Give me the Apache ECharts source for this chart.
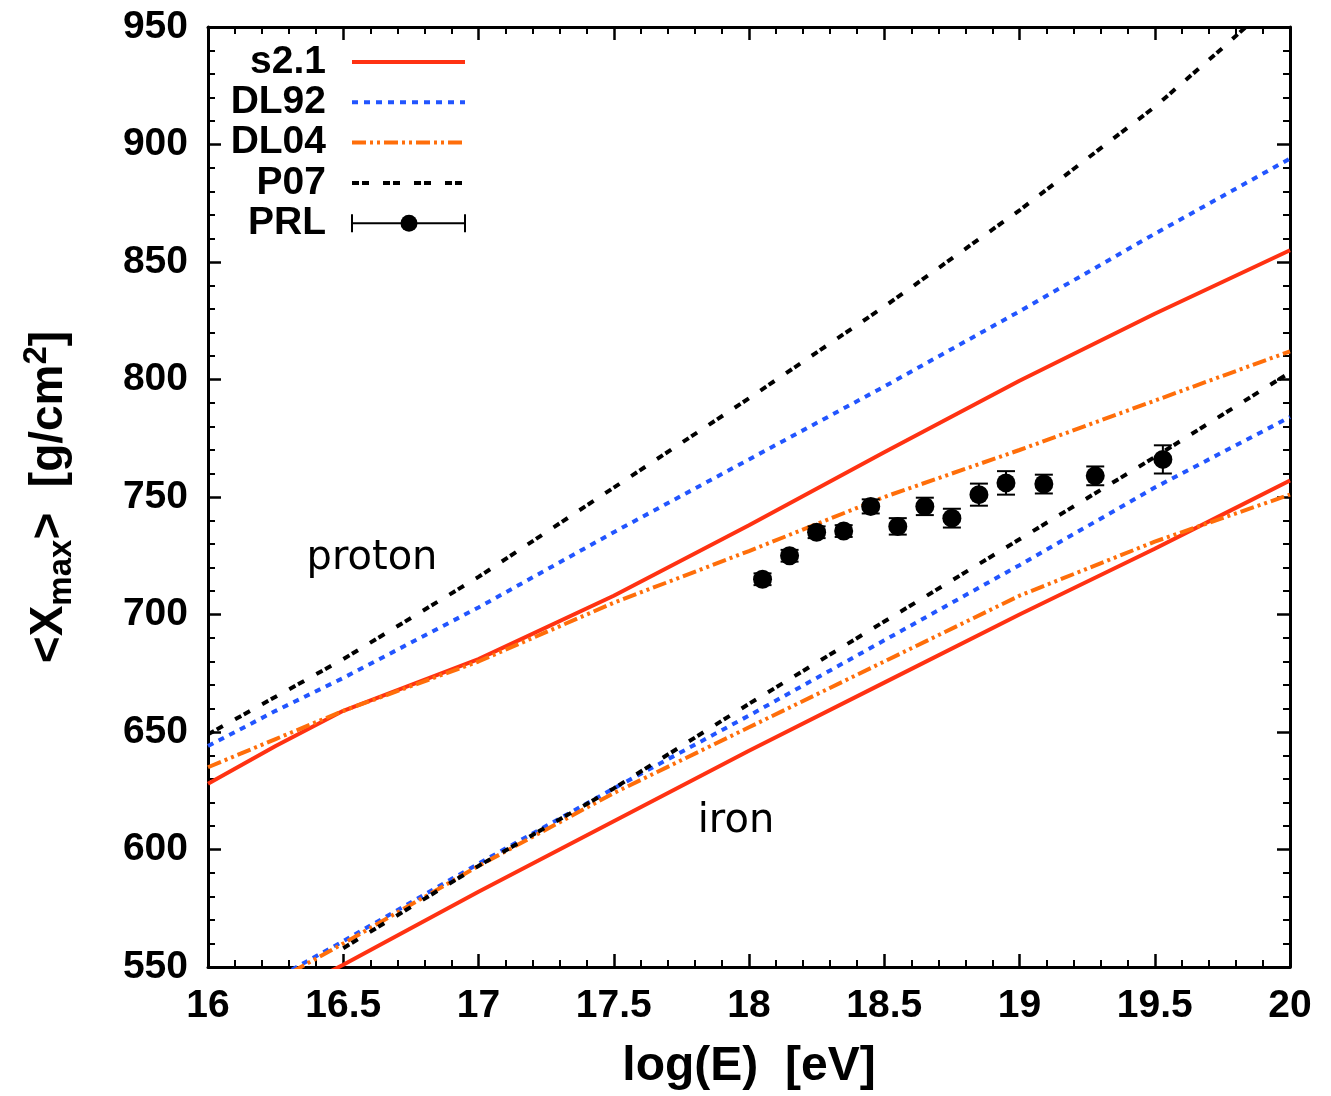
<!DOCTYPE html>
<html>
<head>
<meta charset="utf-8">
<script src="https://cdn.jsdelivr.net/npm/echarts@6/dist/echarts.min.js"></script>
<style>
  html, body { margin: 0; padding: 0; background: #fff; }
  #chart { width: 1331px; height: 1096px; }
</style>
</head>
<body>
<div id="chart"></div>
<script>
// Shower-maximum depth predictions vs. energy, proton and iron primaries
const energy      = [16, 16.25, 16.5, 17, 17.5, 18, 18.5, 19, 19.5, 19.75, 20];
const s21Proton   = [628, 644, 659, 681, 708, 738, 769, 799.5, 828, 841.5, 855];
const s21Iron     = [521, 536, 551, 582, 612, 642, 671, 700, 728, 742.5, 757];
const dl92Proton  = [644, 659, 673, 703, 735, 766, 797, 829, 862, 878, 894];
const dl92Iron    = [529, 545, 561, 594, 626, 657, 689, 721, 754, 769, 784];
const dl04Proton  = [635, 647, 659, 680, 705, 727, 750, 770, 791, 801.5, 812];
const dl04Iron    = [528, 544, 560, 593, 624, 652, 680, 708, 731, 741, 751];
const p07Proton   = [649, 665, 681, 716, 754, 792, 831, 872, 916, 941, 967];
const p07Iron     = [null, null, 558, 593, 626, 662, 697, 732, 767, 785, 803];

// Measured points (PRL)
const prlEnergy = [18.05, 18.15, 18.25, 18.35, 18.45, 18.55, 18.65, 18.75, 18.85, 18.95, 19.09, 19.28, 19.53];
const prlXmax   = [715, 725, 735, 735.5, 746, 737.5, 746, 741, 751, 756, 755.5, 759, 766];
const prlError  = [2.5, 2.5, 2.5, 2.5, 3, 3.5, 3.7, 4, 4.7, 5, 4, 4, 6];

// Axis ticks
const xTicks = [16, 16.5, 17, 17.5, 18, 18.5, 19, 19.5, 20];
const yTicks = [550, 600, 650, 700, 750, 800, 850, 900, 950];

const legendNames = ['s2.1', 'DL92', 'DL04', 'P07', 'PRL'];

const models = [
  { name: 's2.1', color: '#ff3212', dash: 'solid',             proton: s21Proton,  iron: s21Iron  },
  { name: 'DL92', color: '#2255ff', dash: [6, 6],              proton: dl92Proton, iron: dl92Iron },
  { name: 'DL04', color: '#ff6e0a', dash: [14, 4, 3, 4, 3, 4], proton: dl04Proton, iron: dl04Iron },
  { name: 'P07',  color: '#000000', dash: [7, 3, 7, 14],       proton: p07Proton,  iron: p07Iron  }
];

function pairs(xs, ys) {
  const out = [];
  xs.forEach((x, i) => { if (ys[i] !== null) out.push([x, ys[i]]); });
  return out;
}

const FONT = '"Liberation Sans", Arial, sans-serif';

const lineSeries = [];
models.forEach(m => {
  ['proton', 'iron'].forEach(kind => {
    lineSeries.push({
      name: m.name + ' ' + kind,
      type: 'line',
      showSymbol: false,
      symbol: 'none',
      clip: true,
      data: pairs(energy, m[kind]),
      lineStyle: { color: m.color, width: 4, type: m.dash },
      z: 3
    });
  });
});

const prlData = prlEnergy.map((x, i) => [x, prlXmax[i], prlError[i]]);

const axisCommon = {
  type: 'value',
  splitLine: { show: false },
  axisLine: { onZero: false, lineStyle: { color: '#000', width: 3 } },
  axisTick: { inside: true, length: 13, lineStyle: { color: '#000', width: 2.5 } },
  minorTick: { show: true, splitNumber: 5, length: 7, lineStyle: { color: '#000', width: 2 } },
  axisLabel: { color: '#000', fontSize: 39, fontWeight: 'bold', fontFamily: FONT, margin: 20 }
};

const xRange = { min: xTicks[0], max: xTicks[xTicks.length - 1], interval: xTicks[1] - xTicks[0] };
const yRange = { min: yTicks[0], max: yTicks[yTicks.length - 1], interval: yTicks[1] - yTicks[0] };

const chart = echarts.init(document.getElementById('chart'), null, { renderer: 'canvas' });

// Legend block: right-aligned labels with line samples
const legendGraphics = [];
const legendStyles = [
  { color: '#ff3212', dash: null },
  { color: '#2255ff', dash: [6, 6] },
  { color: '#ff6e0a', dash: [14, 4, 3, 4, 3, 4] },
  { color: '#000000', dash: [7, 3, 7, 14] }
];
const legendTop = 62, legendStep = 40.3, legendTextRight = 326, sampleL = 352, sampleR = 465;
legendNames.forEach((nm, i) => {
  const y = legendTop + i * legendStep;
  legendGraphics.push({
    type: 'text', x: legendTextRight, y: y, z: 10,
    style: { text: nm, fill: '#000', font: 'bold 39px ' + FONT, align: 'right', verticalAlign: 'middle' }
  });
  if (i < 4) {
    const s = legendStyles[i];
    legendGraphics.push({
      type: 'line', z: 10,
      shape: { x1: sampleL, y1: y, x2: sampleR, y2: y },
      style: { stroke: s.color, lineWidth: 4, lineDash: s.dash }
    });
  } else {
    legendGraphics.push(
      { type: 'line', z: 10, shape: { x1: sampleL, y1: y, x2: sampleR, y2: y }, style: { stroke: '#000', lineWidth: 2 } },
      { type: 'line', z: 10, shape: { x1: sampleL, y1: y - 9, x2: sampleL, y2: y + 9 }, style: { stroke: '#000', lineWidth: 2 } },
      { type: 'line', z: 10, shape: { x1: sampleR, y1: y - 9, x2: sampleR, y2: y + 9 }, style: { stroke: '#000', lineWidth: 2 } },
      { type: 'circle', z: 10, shape: { cx: (sampleL + sampleR) / 2 + 0.5, cy: y, r: 8.5 }, style: { fill: '#000' } }
    );
  }
});

// Primary labels
legendGraphics.push(
  { type: 'text', x: 372, y: 559, z: 10,
    style: { text: 'proton', fill: '#000', font: '40px "DejaVu Sans", sans-serif', align: 'center', verticalAlign: 'middle' } },
  { type: 'text', x: 736, y: 822, z: 10,
    style: { text: 'iron', fill: '#000', font: '40px "DejaVu Sans", sans-serif', align: 'center', verticalAlign: 'middle' } }
);

const option = {
  animation: false,
  backgroundColor: '#fff',
  grid: { left: 208, right: 41, top: 27, bottom: 126, containLabel: false },
  xAxis: [
    Object.assign({}, axisCommon, xRange, {
      position: 'bottom',
      name: 'log(E)  [eV]',
      nameLocation: 'middle',
      nameGap: 76,
      nameTextStyle: { color: '#000', fontSize: 48, fontWeight: 'bold', fontFamily: FONT }
    }),
    Object.assign({}, axisCommon, xRange, {
      position: 'top',
      axisLabel: { show: false }
    })
  ],
  yAxis: [
    Object.assign({}, axisCommon, yRange, {
      position: 'left',
      name: '{a|<X}{s|max}{a|>  [g/cm}{p|2}{a|]}',
      nameLocation: 'middle',
      nameRotate: 90,
      nameGap: 130,
      nameTextStyle: {
        color: '#000',
        rich: {
          a: { fontSize: 46, fontWeight: 'bold', fontFamily: FONT, lineHeight: 58, verticalAlign: 'middle' },
          s: { fontSize: 33, fontWeight: 'bold', fontFamily: FONT, lineHeight: 34, verticalAlign: 'bottom' },
          p: { fontSize: 33, fontWeight: 'bold', fontFamily: FONT, lineHeight: 34, verticalAlign: 'top' }
        }
      }
    }),
    Object.assign({}, axisCommon, yRange, {
      position: 'right',
      axisLabel: { show: false }
    })
  ],
  graphic: legendGraphics,
  series: lineSeries.concat([
    {
      name: 'PRL errors',
      type: 'custom',
      clip: true,
      data: prlData,
      encode: { x: 0, y: 1 },
      z: 5,
      renderItem: function (params, api) {
        const x = api.value(0), y = api.value(1), e = api.value(2);
        const lo = api.coord([x, y - e]);
        const hi = api.coord([x, y + e]);
        const half = 9;
        const st = { stroke: '#000', lineWidth: 2 };
        return {
          type: 'group',
          children: [
            { type: 'line', shape: { x1: lo[0], y1: lo[1], x2: hi[0], y2: hi[1] }, style: st },
            { type: 'line', shape: { x1: lo[0] - half, y1: lo[1], x2: lo[0] + half, y2: lo[1] }, style: st },
            { type: 'line', shape: { x1: hi[0] - half, y1: hi[1], x2: hi[0] + half, y2: hi[1] }, style: st }
          ]
        };
      }
    },
    {
      name: 'PRL',
      type: 'scatter',
      data: prlData.map(d => [d[0], d[1]]),
      symbol: 'circle',
      symbolSize: 19,
      itemStyle: { color: '#000', opacity: 1 },
      z: 6
    }
  ])
};

chart.setOption(option);
</script>
</body>
</html>
